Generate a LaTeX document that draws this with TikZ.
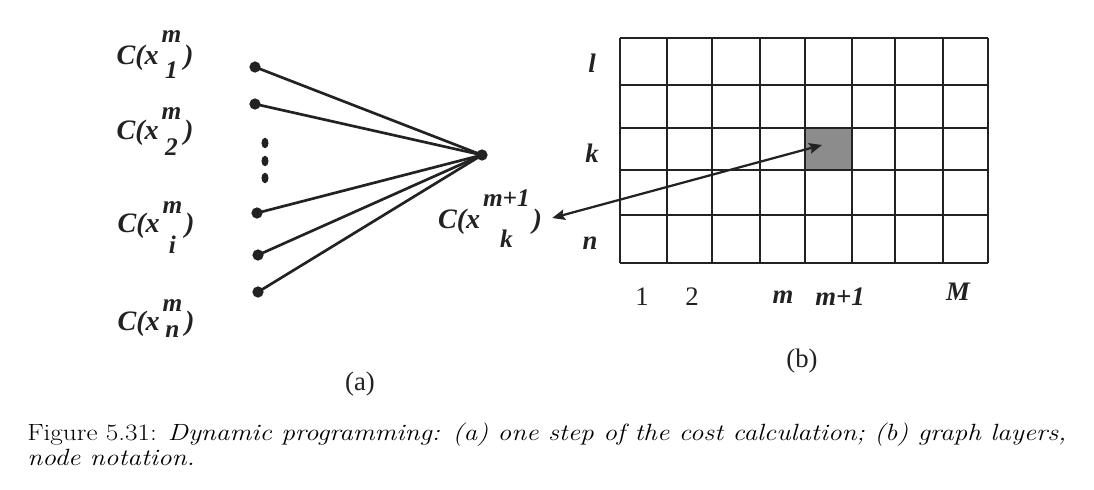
\documentclass[tikz,border=0pt]{standalone}
\usepackage{fontspec}
\usepackage{tikz}
\usetikzlibrary{arrows.meta,shapes.geometric}
\newfontfamily\labfont{Liberation Serif}
\definecolor{inkBlack}{HTML}{222222}
\definecolor{cellGrey}{HTML}{8C8C8C}
% indices stacked over each other: sup, sub, raise, lower
\newcommand\stackidx[4]{{\fontsize{18}{18}\selectfont
  \setbox0\hbox{#1}\setbox2\hbox{#2}%
  \dimen0=\ifdim\wd0>\wd2 \wd0\else\wd2\fi
  \rlap{\hbox to\dimen0{\hss\raisebox{#3}{\box0}\hss}}%
  \hbox to\dimen0{\hss\raisebox{-#4}{\box2}\hss}}}
\newcommand\costlab[4]{C(x\kern2pt\stackidx{#1}{#2}{#3}{#4}\kern2pt)}
\tikzset{
  statedot/.style={circle, fill=inkBlack, inner sep=0pt, minimum size=8pt},
  smalldot/.style={ellipse, fill=inkBlack, inner sep=0pt, minimum width=5pt, minimum height=7.5pt},
  costlabel/.style={font=\labfont\bfseries\itshape\fontsize{20}{24}\selectfont, text=inkBlack, inner sep=0pt, anchor=base},
  axislabel/.style={font=\labfont\bfseries\itshape\fontsize{19}{22}\selectfont, text=inkBlack, inner sep=0pt},
  numlabel/.style={font=\labfont\fontsize{19}{22}\selectfont, text=inkBlack, inner sep=0pt},
  partlabel/.style={font=\labfont\fontsize{19}{22}\selectfont, text=inkBlack, inner sep=0pt},
  shadecell/.style={fill=cellGrey, inner sep=0pt, minimum width=1.175cm, minimum height=1.05cm},
  edgeline/.style={line width=1.9pt, draw=inkBlack},
  gridline/.style={line width=1.9pt, draw=inkBlack},
  pointarrow/.style={{Stealth[length=9pt,width=7.5pt,inset=1.5pt]}-{Stealth[length=9pt,width=7.5pt,inset=1.5pt]}, line width=1.6pt, draw=inkBlack},
  capline/.style={anchor=base west, inner sep=0pt, font=\fontsize{16.7}{20}\selectfont},
}

\begin{document}
\begin{tikzpicture}[x=0.025cm,y=-0.025cm]
  \useasboundingbox[fill=white] (0,0) rectangle (1094,489);

  % (a) one step of the cost calculation
  \node[statedot] (x1) at (255,67) {};
  \node[statedot] (x2) at (255,104) {};
  \node[smalldot] (v1) at (265,143) {};
  \node[smalldot] (v2) at (265,161) {};
  \node[smalldot] (v3) at (265,178) {};
  \node[statedot] (xi) at (257,213) {};
  \node[statedot] (xj) at (258,255) {};
  \node[statedot] (xn) at (258,292) {};
  \node[statedot] (xk) at (482,155) {};
  \foreach \s in {x1,x2,xi,xj,xn}
    \draw[edgeline] (\s.center) -- (xk.center);

  \node[costlabel] (c1) at (155,64) {\costlab{m}{1}{15.5pt}{10pt}};
  \node[costlabel] (c2) at (155,139) {\costlab{m}{2}{14pt}{12pt}};
  \node[costlabel] (ci) at (156,232) {\costlab{m}{i}{13pt}{15.5pt}};
  \node[costlabel] (cn) at (156,330) {\costlab{m}{n}{13pt}{5pt}};
  \node[costlabel] (ck) at (490,228) {\costlab{m+1}{k}{15.4pt}{14pt}};
  \node[partlabel] (pa) at (360,384) {(a)};

  % (b) graph layers
  \node[shadecell] (cell) at (828.5,149) {};
  \foreach \gx in {620,667,712,760,805,852,895,943,988}
    \draw[gridline] (\gx,38) -- (\gx,263);
  \foreach \gy in {38,85,128,170,215,263}
    \draw[gridline] (620,\gy) -- (988,\gy);
  \draw[pointarrow] ([shift={(10,-10)}]ck.base east) -- ([shift={(-6.5,-4)}]cell.center);

  \node[axislabel] (rl) at (592,63) {l};
  \node[axislabel] (rk) at (592,153) {k};
  \node[axislabel] (rn) at (590,243) {n};
  \node[numlabel] (c1n) at (642,297) {1};
  \node[numlabel] (c2n) at (692,297) {2};
  \node[axislabel] (cm) at (783,297) {m};
  \node[axislabel] (cmp) at (840,297) {m+1};
  \node[axislabel] (cM) at (958,292) {M};
  \node[partlabel] (pb) at (802,361) {(b)};

  % caption
  \node[capline] (cap1) at (27,440)
    {\scalebox{1.16}[1]{Figure 5.31: \textit{Dynamic programming: (a) one step of the cost calculation; (b) graph layers,}}};
  \node[capline] (cap2) at (27,465)
    {\scalebox{1.16}[1]{\textit{node notation.}}};
\end{tikzpicture}
\end{document}
